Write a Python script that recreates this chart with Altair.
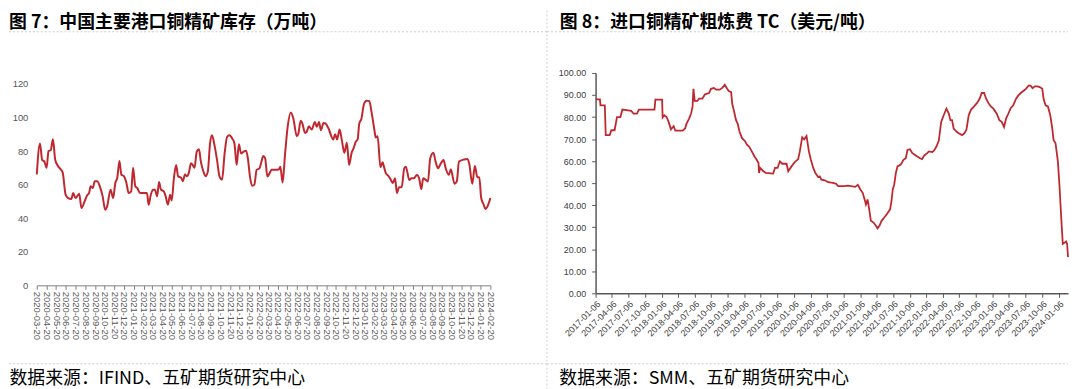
import altair as alt
import pandas as pd

# ---------------- data ----------------
inv_dates = [
    "2020-03-20", "2020-03-30", "2020-04-06", "2020-04-13", "2020-04-20", "2020-04-26", "2020-05-03", "2020-05-10",
    "2020-05-17", "2020-05-26", "2020-06-04", "2020-06-10", "2020-06-19", "2020-06-27", "2020-07-07", "2020-07-13",
    "2020-07-20", "2020-08-01", "2020-08-08", "2020-08-18", "2020-08-26", "2020-09-01", "2020-09-06", "2020-09-13",
    "2020-09-19", "2020-09-27", "2020-10-05", "2020-10-14", "2020-10-22", "2020-10-28", "2020-11-08", "2020-11-16",
    "2020-11-23", "2020-11-29", "2020-12-06", "2020-12-12", "2020-12-20", "2020-12-28", "2021-01-04", "2021-01-12",
    "2021-01-18", "2021-01-25", "2021-01-31", "2021-02-09", "2021-03-03", "2021-03-08", "2021-03-15", "2021-03-22",
    "2021-03-28", "2021-04-04", "2021-04-10", "2021-04-16", "2021-04-25", "2021-05-01", "2021-05-08", "2021-05-15",
    "2021-05-20", "2021-05-27", "2021-06-03", "2021-06-09", "2021-06-19", "2021-06-24", "2021-07-01", "2021-07-07",
    "2021-07-13", "2021-07-20", "2021-07-25", "2021-07-31", "2021-08-07", "2021-08-14", "2021-08-20", "2021-08-28",
    "2021-09-04", "2021-09-11", "2021-09-18", "2021-09-24", "2021-10-02", "2021-10-10", "2021-10-18", "2021-10-26",
    "2021-11-03", "2021-11-11", "2021-11-18", "2021-11-27", "2021-12-04", "2021-12-11", "2021-12-18", "2021-12-25",
    "2022-01-02", "2022-01-10", "2022-01-16", "2022-01-22", "2022-01-29", "2022-02-05", "2022-02-12", "2022-02-21",
    "2022-02-26", "2022-03-05", "2022-03-11", "2022-03-18", "2022-03-25", "2022-03-31", "2022-04-12", "2022-04-23",
    "2022-04-28", "2022-05-05", "2022-05-13", "2022-05-21", "2022-05-31", "2022-06-08", "2022-06-19", "2022-06-24",
    "2022-07-01", "2022-07-06", "2022-07-15", "2022-07-20", "2022-07-27", "2022-08-05", "2022-08-15", "2022-08-21",
    "2022-08-28", "2022-09-03", "2022-09-11", "2022-09-18", "2022-09-27", "2022-10-12", "2022-10-18", "2022-10-24",
    "2022-11-01", "2022-11-08", "2022-11-16", "2022-11-24", "2022-12-01", "2022-12-09", "2022-12-15", "2022-12-22",
    "2022-12-28", "2023-01-02", "2023-01-09", "2023-01-17", "2023-01-25", "2023-02-03", "2023-02-10", "2023-02-19",
    "2023-02-23", "2023-03-01", "2023-03-10", "2023-03-17", "2023-03-21", "2023-03-27", "2023-04-04", "2023-04-12",
    "2023-04-18", "2023-04-25", "2023-05-01", "2023-05-08", "2023-05-16", "2023-05-24", "2023-05-29", "2023-06-09",
    "2023-06-16", "2023-06-24", "2023-07-03", "2023-07-10", "2023-07-17", "2023-07-23", "2023-07-31", "2023-08-07",
    "2023-08-14", "2023-08-24", "2023-08-31", "2023-09-08", "2023-09-14", "2023-09-25", "2023-10-02", "2023-10-12",
    "2023-10-18", "2023-10-30", "2023-11-06", "2023-11-13", "2023-11-29", "2023-12-09", "2023-12-15", "2023-12-25",
    "2024-01-02", "2024-01-10", "2024-01-16", "2024-01-22", "2024-01-30", "2024-02-04", "2024-02-12", "2024-02-20",
]
inv_values = [
    66, 84.5, 74.7, 73.7, 70, 80, 80.5, 87,
    75, 71, 69, 67, 54, 52, 51.5, 55,
    52, 54.5, 46, 50, 53.6, 55, 59, 58,
    62, 62, 59, 53, 45, 47, 57, 52,
    61, 64, 74, 66, 65, 61, 55, 56,
    70, 59, 58, 55, 55, 48, 54, 57,
    57, 53, 61.5, 57, 56, 53, 48, 54,
    50.6, 64, 71.7, 65, 64, 62, 66, 65,
    67, 72.7, 71.7, 70, 79.6, 81, 73.7, 67.8,
    65, 67.8, 84.5, 89.4, 83.5, 74.7, 64.8, 63,
    78.6, 88.5, 89.4, 87.5, 84.5, 71.7, 84, 78.6,
    79.6, 80.2, 74.7, 64.8, 59.3, 60, 68.8, 69.7,
    72.7, 77, 75.6, 64.8, 66.8, 68.8, 68.8, 69,
    70.7, 61.3, 78.6, 94.4, 103, 99.3, 88.8, 90.4,
    98, 96.7, 90.8, 91.4, 94.8, 92.8, 97.3, 94.4,
    97.3, 92.4, 96.7, 96.3, 93.4, 86.9, 90, 86.9,
    92.8, 86.5, 79, 84.9, 71.7, 79, 81.6, 85.5,
    86.9, 96.3, 99.3, 108, 110, 109.7, 103, 92.4,
    88, 88.8, 70.3, 73.3, 70.7, 66.8, 65.2, 62.8,
    60.9, 63.8, 55, 58.5, 58.5, 69.7, 70.7, 62.8,
    63.8, 63.8, 65.8, 63.8, 57.3, 63.8, 62.8, 61.9,
    75.6, 79, 73.7, 69.7, 71.7, 74.7, 69.7, 65.8,
    69.1, 60.5, 61.9, 73.7, 75, 75.3, 72.7, 60.5,
    71.1, 64.4, 64.4, 52, 48, 45.5, 47.5, 52,
]

tc_dates = [
    "2017-01-06", "2017-01-30", "2017-02-02", "2017-02-26", "2017-03-03", "2017-03-25", "2017-04-03", "2017-04-21",
    "2017-05-04", "2017-05-23", "2017-06-03", "2017-07-04", "2017-07-22", "2017-08-04", "2017-08-22", "2017-09-02",
    "2017-11-27", "2017-12-02", "2018-01-08", "2018-01-11", "2018-01-20", "2018-02-02", "2018-02-13", "2018-02-26",
    "2018-03-13", "2018-03-22", "2018-05-01", "2018-05-15", "2018-05-23", "2018-06-06", "2018-06-17", "2018-06-25",
    "2018-06-30", "2018-07-07", "2018-07-22", "2018-07-31", "2018-08-18", "2018-09-02", "2018-09-24", "2018-10-05",
    "2018-10-21", "2018-11-03", "2018-11-21", "2018-12-06", "2018-12-20", "2019-01-02", "2019-01-11", "2019-01-24",
    "2019-01-30", "2019-02-08", "2019-02-20", "2019-03-01", "2019-03-11", "2019-03-25", "2019-04-12", "2019-04-21",
    "2019-05-03", "2019-05-18", "2019-06-02", "2019-06-14", "2019-06-24", "2019-06-27", "2019-07-03", "2019-07-21",
    "2019-08-03", "2019-09-13", "2019-09-23", "2019-10-07", "2019-10-20", "2019-11-02", "2019-11-26", "2019-12-05",
    "2019-12-23", "2020-01-10", "2020-01-29", "2020-02-07", "2020-02-20", "2020-03-02", "2020-03-15", "2020-03-28",
    "2020-04-08", "2020-04-21", "2020-05-03", "2020-05-18", "2020-05-27", "2020-06-05", "2020-06-24", "2020-07-12",
    "2020-08-08", "2020-08-26", "2020-09-05", "2020-10-11", "2020-10-29", "2020-11-16", "2020-12-08", "2020-12-23",
    "2021-01-06", "2021-01-19", "2021-02-01", "2021-02-06", "2021-02-15", "2021-02-24", "2021-03-05", "2021-03-20",
    "2021-04-02", "2021-04-11", "2021-04-22", "2021-05-03", "2021-05-18", "2021-06-01", "2021-06-19", "2021-06-27",
    "2021-07-04", "2021-07-12", "2021-07-21", "2021-07-30", "2021-08-17", "2021-09-01", "2021-09-14", "2021-09-23",
    "2021-10-07", "2021-10-20", "2021-11-02", "2021-11-16", "2021-12-01", "2021-12-13", "2021-12-23", "2022-01-10",
    "2022-01-19", "2022-02-07", "2022-02-16", "2022-03-02", "2022-03-15", "2022-03-28", "2022-04-11", "2022-04-26",
    "2022-05-09", "2022-05-18", "2022-05-27", "2022-06-05", "2022-06-20", "2022-07-03", "2022-07-21", "2022-08-03",
    "2022-08-14", "2022-08-27", "2022-09-09", "2022-09-23", "2022-10-11", "2022-10-26", "2022-11-07", "2022-11-20",
    "2022-12-01", "2022-12-14", "2022-12-27", "2023-01-10", "2023-01-28", "2023-02-12", "2023-02-25", "2023-03-10",
    "2023-03-21", "2023-04-03", "2023-04-16", "2023-04-30", "2023-05-15", "2023-05-28", "2023-06-10", "2023-06-24",
    "2023-07-09", "2023-07-23", "2023-08-03", "2023-08-14", "2023-08-27", "2023-09-09", "2023-09-23", "2023-10-07",
    "2023-10-14", "2023-10-25", "2023-11-07", "2023-11-20", "2023-12-01", "2023-12-08", "2023-12-19", "2024-01-01",
    "2024-01-10", "2024-01-19", "2024-01-28", "2024-02-06", "2024-02-15", "2024-02-21", "2024-02-26",
]
tc_values = [
    88, 88, 85.3, 85.3, 71.8, 71.8, 74, 74,
    80, 80, 83.4, 83, 82.8, 81.5, 81.5, 83.4,
    83.4, 87.9, 87.9, 79.8, 80.8, 80, 77.8, 74.4,
    75.8, 73.8, 73.8, 74.8, 77, 79.3, 81.6, 84.6,
    92.8, 87.3, 87.3, 88.4, 88.4, 90.3, 90.9, 92.8,
    93.2, 92.4, 92.4, 93.2, 94.6, 92.8, 91.8, 91.3,
    86, 83, 78.6, 77, 73.4, 70.4, 68.9, 67.4,
    66.6, 64.4, 62.1, 60.6, 59.1, 54.6, 56.9, 55.4,
    54.6, 54.3, 56.9, 56.9, 59.9, 58.8, 58.8, 55.4,
    57.6, 59.5, 60.9, 64.4, 70.8, 69.9, 71.4, 64.4,
    60.6, 56.9, 54.6, 52.8, 53.1, 51.6, 51.3, 50.4,
    50.1, 49.7, 48.6, 48.6, 48.9, 48.6, 48.3, 49.2,
    47.1, 45.6, 41.9, 40.3, 42.6, 38.1, 32.9, 32.1,
    30.7, 29.5, 30.7, 32.9, 34.4, 35.9, 38.1, 41.9,
    47.1, 49.4, 54.6, 57.6, 58.4, 60.6, 61.3, 65.1,
    65.4, 63.6, 62.9, 62.1, 61.3, 60.9, 62.4, 63.6,
    64.4, 64.1, 64.7, 66.6, 69.3, 77.8, 80.8, 83.8,
    81.6, 78.6, 78.6, 74.8, 73.4, 72.6, 71.8, 72.6,
    74.1, 80.8, 83.4, 84.6, 86.3, 88.3, 90.9, 90.9,
    88.3, 86.3, 84.8, 83.8, 81.6, 78.6, 77.8, 75.5,
    79.3, 81.6, 84.1, 85.3, 88.3, 89.8, 90.9, 91.8,
    92.8, 94.3, 94.3, 93.1, 93.9, 93.9, 93.6, 92.8,
    88.3, 85.3, 84.8, 80.8, 74.8, 69.6, 68.1, 59.9,
    48.6, 35.1, 22.4, 22.9, 23.5, 22.4, 16.4,
]

inv_ticks = [f"{y}-{m:02d}-20" for y, m in
             [(2020, m) for m in range(3, 13)] + [(2021, m) for m in range(1, 13)] +
             [(2022, m) for m in range(1, 13)] + [(2023, m) for m in range(1, 13)] + [(2024, 1), (2024, 2)]]
tc_ticks = [f"{y}-{m:02d}-06" for y in range(2017, 2024) for m in (1, 4, 7, 10)] + ["2024-01-06"]
inv_yticks = [0, 20, 40, 60, 80, 100, 120]
tc_yticks = [0, 10, 20, 30, 40, 50, 60, 70, 80, 90, 100]

title_left = "图 7：中国主要港口铜精矿库存（万吨）"
title_right = "图 8：进口铜精矿粗炼费 TC（美元/吨）"
source_left = "数据来源：IFIND、五矿期货研究中心"
source_right = "数据来源：SMM、五矿期货研究中心"

# ---------------- style ----------------
RED = "#C0282F"
CJK = "Noto Sans CJK SC"
LAB = "Liberation Sans"
SEP = "#cfcfcf"


def dt(s):
    y, m, d = (int(p) for p in s.split("-"))
    return alt.DateTime(year=y, month=m, date=d, utc=True)


one = pd.DataFrame({"k": [0]})


def hrule(x0, x1, y):
    return alt.Chart(one).mark_rule(color=SEP, strokeDash=[2, 2], strokeWidth=1).encode(
        x=alt.value(x0), x2=alt.value(x1), y=alt.value(y))


def vrule(x, y0, y1):
    return alt.Chart(one).mark_rule(color=SEP, strokeDash=[2, 2], strokeWidth=1).encode(
        x=alt.value(x), y=alt.value(y0), y2=alt.value(y1))


def title_text(txt, x, y):
    return alt.Chart(one).mark_text(align="left", baseline="middle", font=CJK, fontSize=18,
                                    fontWeight="bold", color="#000000").encode(
        x=alt.value(x), y=alt.value(y), text=alt.value(txt))


# ---------------- left panel ----------------
inv_df = pd.DataFrame({"date": inv_dates, "value": inv_values})
left_line = alt.Chart(inv_df).mark_line(color=RED, strokeWidth=2, interpolate="monotone").encode(
    x=alt.X("date:T",
            scale=alt.Scale(type="utc", domain=[dt("2020-03-20"), dt("2024-02-20")]),
            axis=alt.Axis(values=[dt(s) for s in inv_ticks], format="%Y-%m-%d", labelAngle=90,
                          labelFont=LAB, labelFontSize=9.5, labelColor="#595959", labelPadding=2,
                          labelOverlap=False, labelFlush=False, domainColor="#7f7f7f", tickColor="#7f7f7f",
                          tickSize=4, grid=False,
                          title=source_left, titleX=-28, titleY=94, titleAlign="left", titleBaseline="middle",
                          titleAngle=0, titleFont=CJK, titleFontSize=18, titleFontWeight="normal",
                          titleColor="#000000")),
    y=alt.Y("value:Q",
            scale=alt.Scale(domain=[0, 126.5], nice=False),
            axis=alt.Axis(values=inv_yticks, domain=False, ticks=False, grid=False, labelPadding=9,
                          labelFont=LAB, labelFontSize=9.5, labelColor="#595959", title=None)),
)
left = alt.layer(
    left_line,
    hrule(-28, 514, -41.5), hrule(-28, 514, 293), vrule(514, -63, 320),
    title_text(title_left, -28, -50),
).properties(width=457, height=214)

# ---------------- right panel ----------------
tc_df = pd.DataFrame({"date": tc_dates, "value": tc_values})
right_line = alt.Chart(tc_df).mark_line(color=RED, strokeWidth=1.8).encode(
    x=alt.X("date:T",
            scale=alt.Scale(type="utc", domain=[dt("2017-01-06"), dt("2024-02-26")]),
            axis=alt.Axis(values=[dt(s) for s in tc_ticks], format="%Y-%m-%d", labelAngle=-45,
                          labelAlign="right", labelBaseline="top",
                          labelFont=LAB, labelFontSize=9, labelColor="#404040", labelPadding=2,
                          labelOverlap=False, labelFlush=False, domainColor="#595959", tickColor="#595959",
                          tickSize=4, grid=False, domainWidth=1.5,
                          title=source_right, titleX=-37, titleY=86, titleAlign="left", titleBaseline="middle",
                          titleAngle=0, titleFont=CJK, titleFontSize=18, titleFontWeight="normal",
                          titleColor="#000000")),
    y=alt.Y("value:Q",
            scale=alt.Scale(domain=[0, 100], nice=False),
            axis=alt.Axis(values=tc_yticks, format=".2f", domainColor="#595959", domainWidth=1.5,
                          tickColor="#595959", tickSize=4, grid=False, labelPadding=6,
                          labelFont=LAB, labelFontSize=9, labelColor="#404040", title=None)),
)
right = alt.layer(
    right_line,
    hrule(-49, 476, -41.5), hrule(-49, 476, 293),
    title_text(title_right, -36, -50),
).properties(width=476, height=222)

chart = alt.hconcat(left, right, spacing=106, bounds="flush").properties(
    padding=0, background="white"
).configure_view(strokeWidth=0)

chart.save("out.html", embed_options={"renderer": "svg", "actions": False})
